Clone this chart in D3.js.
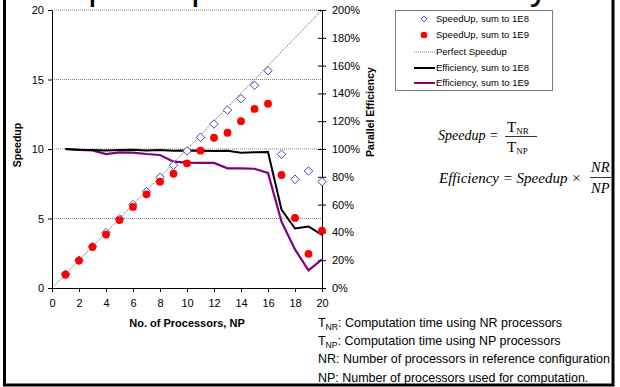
<!DOCTYPE html>
<html><head><meta charset="utf-8">
<script src="https://cdn.jsdelivr.net/npm/d3@7/dist/d3.min.js"></script>
<style>
body{margin:0;background:#fff;}
svg{display:block;}
text{font-family:"Liberation Sans",Arial,sans-serif;}
</style></head><body>
<svg id="c" width="620" height="387"></svg>
<script>
const processors = d3.range(1, 21);
const speedup1E8 = [1, 2, 2.98, 3.98, 4.98, 6.0, 6.93, 7.96, 8.83, 9.86, 10.84, 11.8, 12.8, 13.62, 14.58, 15.63, 9.62, 7.82, 8.42, 7.65];
const speedup1E9 = [0.96, 1.97, 2.95, 3.84, 4.89, 5.83, 6.74, 7.65, 8.22, 8.97, 9.88, 10.81, 11.17, 12.0, 12.88, 13.26, 8.13, 5.04, 2.45, 4.12];
const efficiency1E8 = [100, 99.5, 99.3, 99, 99.2, 99.4, 99, 99.2, 98.8, 99, 98.8, 98.5, 98.8, 97.3, 97.6, 97.8, 56.5, 42.8, 44.3, 38.2];
const efficiency1E9 = [100, 99.3, 99, 96.3, 97.6, 97.4, 96.4, 95.7, 90.9, 90.2, 90, 90, 86.1, 86, 85.8, 82.8, 47.7, 27.8, 12.7, 20.6];
const perfectSpeedup = [0, 20];
const xTicks = [0, 2, 4, 6, 8, 10, 12, 14, 16, 18, 20];
const yLeftTicks = [0, 5, 10, 15, 20];
const yRightTicks = [0, 20, 40, 60, 80, 100, 120, 140, 160, 180, 200];
const legendLabels = ["SpeedUp,  sum to 1E8", "SpeedUp,  sum to 1E9", "Perfect Speedup", "Efficiency, sum to 1E8", "Efficiency, sum to 1E9"];
const notes = [["T","NR",": Computation time using NR processors"],["T","NP",": Computation time using NP processors"],["NR: Number of processors in reference configuration","",""],["NP: Number of processors used for computation.","",""]];

const svg = d3.select("#c");
const L = 52, R = 322, T = 10, B = 288;
const x = d3.scaleLinear().domain([0, 20]).range([L, R]);
const y = d3.scaleLinear().domain([0, 20]).range([B, T]);
const y2 = d3.scaleLinear().domain([0, 200]).range([B, T]);

// title (cut off at top, as in the reference)
svg.append("text").attr("x", 306).attr("y", -1).attr("text-anchor", "middle")
  .style("font-size", "37px").attr("fill", "#000").text("Speedup & Parallel Efficiency");

// gridlines
svg.append("g").selectAll("line").data([5, 10, 15, 20]).join("line")
  .attr("x1", L).attr("x2", R).attr("y1", d => y(d)).attr("y2", d => y(d))
  .attr("stroke", "#808080").attr("stroke-width", 1).attr("stroke-dasharray", "1,1");

// perfect speedup
svg.append("line").attr("x1", x(perfectSpeedup[0])).attr("y1", y(perfectSpeedup[0]))
  .attr("x2", x(perfectSpeedup[1])).attr("y2", y(perfectSpeedup[1]))
  .attr("stroke", "#505050").attr("stroke-width", 0.8).attr("stroke-dasharray", "1.5,1");

// axes
const gx = svg.append("g").attr("transform", `translate(0,${B})`)
  .call(d3.axisBottom(x).tickValues(xTicks).tickSize(4).tickPadding(5).tickSizeOuter(0));
const gy = svg.append("g").attr("transform", `translate(${L},0)`)
  .call(d3.axisLeft(y).tickValues(yLeftTicks).tickSize(4).tickPadding(4).tickSizeOuter(0));
const gy2 = svg.append("g").attr("transform", `translate(${R},0)`)
  .call(d3.axisRight(y2).tickValues(yRightTicks).tickFormat(d => d + "%").tickSize(4).tickPadding(6).tickSizeOuter(0));
gy2.selectAll(".tick line").attr("x1", -4);
[gx, gy, gy2].forEach(g => {
  g.select(".domain").attr("stroke", "#000");
  g.selectAll("text").style("font-size", "11px").attr("fill", "#000").style("font-family", "Liberation Sans, Arial, sans-serif");
});
gx.selectAll("text").attr("dy", "0.95em");

// axis titles
svg.append("text").attr("x", (L + R) / 2).attr("y", 327).attr("text-anchor", "middle")
  .style("font-size", "11px").style("font-weight", "bold").text("No. of Processors, NP");
svg.append("text").attr("transform", "translate(21,145) rotate(-90)").attr("text-anchor", "middle")
  .style("font-size", "10.5px").style("font-weight", "bold").text("Speedup");
svg.append("text").attr("transform", "translate(374,112) rotate(-90)").attr("text-anchor", "middle")
  .style("font-size", "10.5px").style("font-weight", "bold").text("Parallel Efficiency");

// efficiency lines
const line2 = d3.line().x((d, i) => x(processors[i])).y(d => y2(d));
svg.append("path").datum(efficiency1E9).attr("d", line2).attr("fill", "none")
  .attr("stroke", "#800080").attr("stroke-width", 2.2);
svg.append("path").datum(efficiency1E8).attr("d", line2).attr("fill", "none")
  .attr("stroke", "#000").attr("stroke-width", 2);

// speedup markers
const diamond = d3.symbol().type(d3.symbolDiamond2).size(46);
svg.append("g").selectAll("path").data(speedup1E8).join("path")
  .attr("transform", (d, i) => `translate(${x(processors[i])},${y(d)})`)
  .attr("d", diamond).attr("fill", "#fff").attr("stroke", "#3333bb").attr("stroke-width", 0.9);
svg.append("g").selectAll("circle").data(speedup1E9).join("circle")
  .attr("cx", (d, i) => x(processors[i])).attr("cy", d => y(d)).attr("r", 3.9).attr("fill", "#ff0000");

// legend
const lg = svg.append("g");
lg.append("rect").attr("x", 395.5).attr("y", 10.5).attr("width", 157).attr("height", 80)
  .attr("fill", "#fff").attr("stroke", "#808080").attr("stroke-width", 1);
const ly = [19, 35, 52, 68, 83];
legendLabels.forEach((t, i) => {
  lg.append("text").attr("x", 436).attr("y", ly[i]).attr("dy", "0.35em")
    .style("font-size", "9.5px").text(t);
});
lg.append("path").attr("transform", `translate(424,${ly[0]})`).attr("d", d3.symbol().type(d3.symbolDiamond2).size(22))
  .attr("fill", "#fff").attr("stroke", "#3333bb").attr("stroke-width", 0.9);
lg.append("circle").attr("cx", 424).attr("cy", ly[1]).attr("r", 3.3).attr("fill", "#ff0000");
lg.append("line").attr("x1", 414).attr("x2", 435).attr("y1", ly[2]).attr("y2", ly[2])
  .attr("stroke", "#606060").attr("stroke-width", 0.8).attr("stroke-dasharray", "1,1");
lg.append("line").attr("x1", 414).attr("x2", 435).attr("y1", ly[3]).attr("y2", ly[3])
  .attr("stroke", "#000").attr("stroke-width", 2);
lg.append("line").attr("x1", 414).attr("x2", 435).attr("y1", ly[4]).attr("y2", ly[4])
  .attr("stroke", "#800080").attr("stroke-width", 2);

// equations
const serif = "Liberation Serif, Times New Roman, serif";
const eq = svg.append("g");
eq.append("text").attr("x", 438).attr("y", 140).style("font-family", serif).style("font-style", "italic").style("font-size", "14px").text("Speedup =");
const f1 = eq.append("text").attr("x", 507).attr("y", 132).style("font-family", serif).style("font-size", "15px");
f1.append("tspan").text("T");
f1.append("tspan").attr("dy", 2).style("font-size", "9px").text("NR");
const f2 = eq.append("text").attr("x", 507).attr("y", 152).style("font-family", serif).style("font-size", "15px");
f2.append("tspan").text("T");
f2.append("tspan").attr("dy", 2).style("font-size", "9px").text("NP");
eq.append("line").attr("x1", 505).attr("x2", 537).attr("y1", 136.5).attr("y2", 136.5).attr("stroke", "#000").attr("stroke-width", 0.8);
eq.append("text").attr("x", 439).attr("y", 183).style("font-family", serif).style("font-style", "italic").style("font-size", "15px").text("Efficiency = Speedup ×");
eq.append("text").attr("x", 591).attr("y", 172).style("font-family", serif).style("font-style", "italic").style("font-size", "14.5px").text("NR");
eq.append("text").attr("x", 591).attr("y", 193).style("font-family", serif).style("font-style", "italic").style("font-size", "14.5px").text("NP");
eq.append("line").attr("x1", 590).attr("x2", 611).attr("y1", 177.5).attr("y2", 177.5).attr("stroke", "#000").attr("stroke-width", 0.8);

// notes (narrow face emulated by horizontal scaling)
const ny = [327, 345, 363, 382];
const ng = svg.append("g");
const noteTexts = notes.map((n, i) => {
  const t = ng.append("text").attr("x", 0).attr("y", ny[i]).style("font-size", "13px");
  t.append("tspan").text(n[0]);
  if (n[1]) {
    t.append("tspan").attr("dy", 3).style("font-size", "9px").text(n[1]);
    t.append("tspan").attr("dy", -3).text(n[2]);
  }
  return t;
});
const wRef = noteTexts[2].node().getComputedTextLength();
const k = 292 / wRef;
ng.attr("transform", `translate(318,0) scale(${k},1)`);

// frame
svg.append("rect").attr("x", 4.5).attr("y", -10).attr("width", 608.5).attr("height", 395)
  .attr("fill", "none").attr("stroke", "#000").attr("stroke-width", 3);
</script>
</body></html>
